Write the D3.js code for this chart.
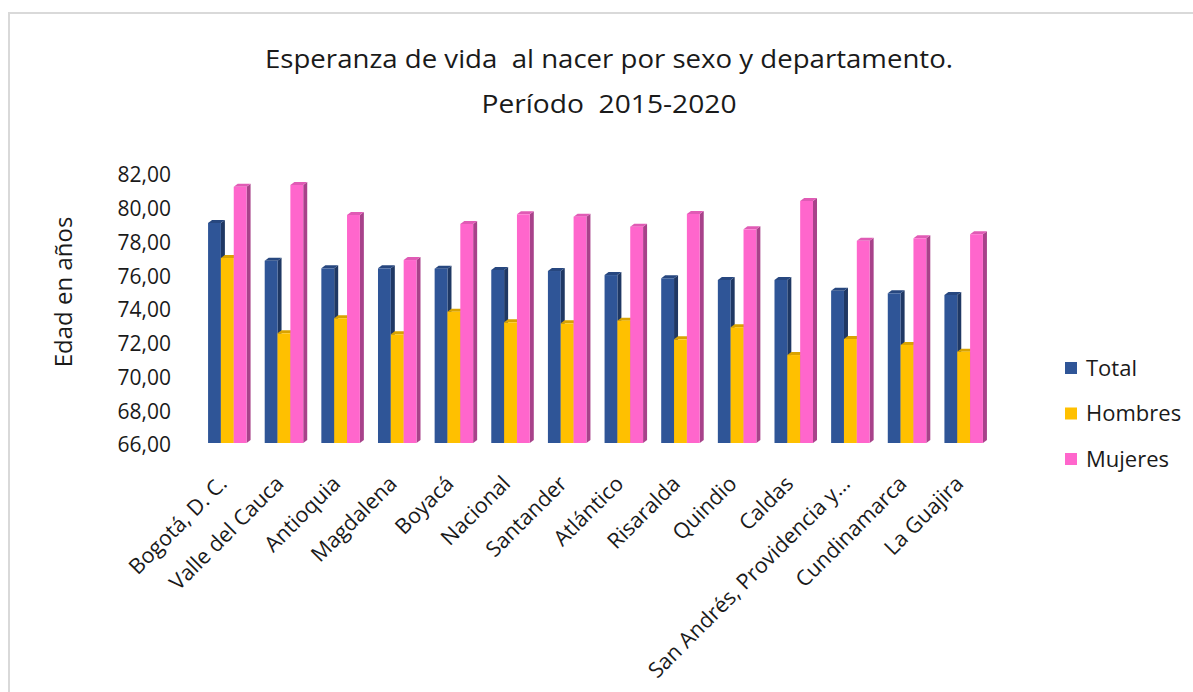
<!DOCTYPE html>
<html>
<head>
<meta charset="utf-8">
<script src="https://cdn.jsdelivr.net/npm/d3@7"></script>
<style>
  html, body { margin: 0; padding: 0; background: #fff; }
  svg { display: block; }
  text { font-family: "Open Sans", "Noto Sans", sans-serif; fill: #1a1a1a; white-space: pre; }
</style>
</head>
<body>
<svg id="chart" width="1193" height="692"></svg>
<script>
const categories = ["Bogotá, D. C.", "Valle del Cauca", "Antioquia", "Magdalena", "Boyacá", "Nacional", "Santander", "Atlántico", "Risaralda", "Quindio", "Caldas", "San Andrés, Providencia y…", "Cundinamarca", "La Guajira"];
const seriesNames = ["Total", "Hombres", "Mujeres"];
const total   = [79.16, 76.92, 76.47, 76.47, 76.45, 76.37, 76.31, 76.07, 75.88, 75.78, 75.78, 75.14, 74.99, 74.89];
const hombres = [77.08, 72.62, 73.51, 72.56, 73.90, 73.27, 73.21, 73.37, 72.26, 72.98, 71.33, 72.28, 71.93, 71.53];
const mujeres = [81.30, 81.41, 79.63, 76.96, 79.10, 79.67, 79.53, 78.94, 79.69, 78.78, 80.46, 78.10, 78.25, 78.49];
const yTicks = [66, 68, 70, 72, 74, 76, 78, 80, 82];
const titleLines = ["Esperanza de vida  al nacer por sexo y departamento.", "Período  2015-2020"];
const yTitle = "Edad en años";

const seriesValues = [total, hombres, mujeres];
const frontColors = ["#2F5597", "#FFC000", "#FF66CC"];
const topColors   = ["#27477f", "#d9a300", "#e05bb5"];
const sideColors  = ["#1F3864", "#B38600", "#A8428A"];

const svg = d3.select("#chart");

// outer border
svg.append("rect").attr("x", 9).attr("y", 13).attr("width", 1200).attr("height", 700)
  .attr("fill", "none").attr("stroke", "#d9d9d9").attr("stroke-width", 2);

const x = d3.scaleBand().domain(categories).range([199, 992]).paddingInner(0.32).paddingOuter(0.16);
const xs = d3.scaleBand().domain(seriesNames).range([0, x.bandwidth()]);
const y = d3.scaleLinear().domain([66, 82]).range([445, 175]);
const dx = 4, dy = 3;

// title
const titleWidths = [688, 255];
svg.append("g").selectAll("text").data(titleLines).join("text")
  .attr("x", 609).attr("y", (d, i) => 68 + i * 45)
  .attr("text-anchor", "middle").style("font-size", "25px")
  .attr("textLength", (d, i) => titleWidths[i]).attr("lengthAdjust", "spacingAndGlyphs")
  .text(d => d);

// y axis labels
svg.append("g").selectAll("text").data(yTicks).join("text")
  .attr("x", 171).attr("y", d => y(d)).attr("dy", "0.35em")
  .attr("text-anchor", "end").style("font-size", "21px")
  .text(d => d3.format(".2f")(d).replace(".", ","));

// y title
svg.append("text").attr("transform", "translate(72,292) rotate(-90)")
  .attr("text-anchor", "middle").style("font-size", "24px").text(yTitle);

// bars
const base = y(66) - 2;
const gBars = svg.append("g");
categories.forEach((c, ci) => {
  seriesNames.forEach((s, si) => {
    const v = seriesValues[si][ci];
    const x0 = x(c) + xs(s), w = xs.bandwidth(), yt = y(v);
    const g = gBars.append("g");
    g.append("polygon").attr("points", [[x0 + w, yt], [x0 + w + dx, yt - dy], [x0 + w + dx, base - dy], [x0 + w, base]].join(" "))
      .attr("fill", sideColors[si]);
    g.append("polygon").attr("points", [[x0, yt], [x0 + dx, yt - dy], [x0 + w + dx, yt - dy], [x0 + w, yt]].join(" "))
      .attr("fill", topColors[si]);
    g.append("rect").attr("x", x0).attr("y", yt).attr("width", w).attr("height", base - yt)
      .attr("fill", frontColors[si]);
  });
});

// x labels
svg.append("g").selectAll("text").data(categories).join("text")
  .attr("transform", d => `translate(${x(d) + x.bandwidth() / 2 + 1},485) rotate(-45)`)
  .attr("text-anchor", "end").style("font-size", "21.5px").text(d => d);

// legend
const lg = svg.append("g").selectAll("g").data(seriesNames).join("g")
  .attr("transform", (d, i) => `translate(1065,${368 + i * 45.5})`);
lg.append("rect").attr("x", 0).attr("y", -6).attr("width", 12).attr("height", 12)
  .attr("fill", (d, i) => frontColors[i]);
lg.append("text").attr("x", 21).attr("dy", "0.35em").style("font-size", "22px").text(d => d);
</script>
</body>
</html>
